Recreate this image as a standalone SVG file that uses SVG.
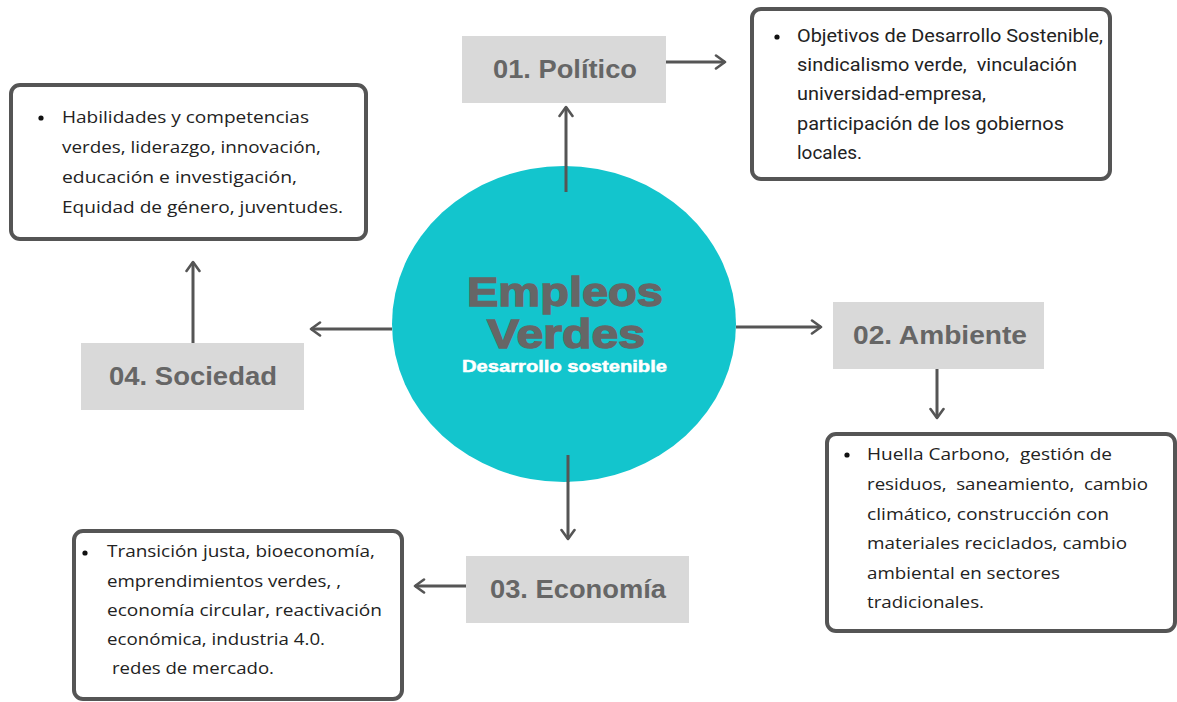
<svg xmlns="http://www.w3.org/2000/svg" width="1177" height="702" viewBox="0 0 1177 702">
<style>
.title{font-family:"Liberation Sans",Arial,sans-serif;font-weight:bold;font-size:25px;fill:#666666;text-anchor:middle}
.tbox{fill:#d9d9d9}
.card{fill:#ffffff;stroke:#555555;stroke-width:4}
.body{font-family:"Open Sans","Liberation Sans",sans-serif;font-size:17px;fill:#222222}
.cond{font-family:Roboto,"Liberation Sans",sans-serif;font-size:18px;fill:#222222}
.bul{fill:#111111}
.conn line{stroke:#555555;stroke-width:3;fill:none;marker-end:url(#arr)}
</style>
<defs>
<marker id="arr" viewBox="0 0 14 16" refX="12" refY="8" markerWidth="14" markerHeight="16" markerUnits="userSpaceOnUse" orient="auto">
<path d="M3,1.5 L12,8 L3,14.5" fill="none" stroke="#555555" stroke-width="2.6" stroke-linecap="round" stroke-linejoin="round"/>
</marker>
</defs>
<rect width="1177" height="702" fill="#ffffff"/>

<g id="connectors" class="conn">
<line x1="566" y1="192" x2="566" y2="107"/>
<line x1="666" y1="62" x2="725" y2="62"/>
<line x1="736" y1="327" x2="821" y2="327"/>
<line x1="937" y1="369" x2="937" y2="418"/>
<line x1="568" y1="455" x2="568" y2="539"/>
<line x1="466" y1="586" x2="415" y2="586"/>
<line x1="392" y1="329" x2="311" y2="329"/>
<line x1="193" y1="343" x2="193" y2="262"/>
</g>

<g id="center">
<ellipse cx="564" cy="324" rx="172" ry="158" fill="#13c5cd"/>
<line x1="566" y1="166" x2="566" y2="192" stroke="#555555" stroke-width="3"/>
<line x1="568" y1="455" x2="568" y2="482" stroke="#555555" stroke-width="3"/>
<text x="565" y="306" font-family="'Liberation Sans',Arial,sans-serif" font-weight="bold" font-size="41" fill="#666666" stroke="#666666" stroke-width="1.4" text-anchor="middle" textLength="196" lengthAdjust="spacingAndGlyphs">Empleos</text>
<text x="566" y="348" font-family="'Liberation Sans',Arial,sans-serif" font-weight="bold" font-size="41" fill="#666666" stroke="#666666" stroke-width="1.4" text-anchor="middle" textLength="158" lengthAdjust="spacingAndGlyphs">Verdes</text>
<text x="564.5" y="372" font-family="'Liberation Sans',Arial,sans-serif" font-weight="bold" font-size="17" fill="#ffffff" stroke="#ffffff" stroke-width="0.5" text-anchor="middle" textLength="205" lengthAdjust="spacingAndGlyphs">Desarrollo sostenible</text>
</g>

<g id="politico">
<rect class="tbox" x="462" y="36" width="204" height="67"/>
<text class="title" x="565" y="78" textLength="144" lengthAdjust="spacingAndGlyphs">01. Político</text>
</g>

<g id="politico-detalle">
<rect class="card" x="752" y="9" width="358" height="170" rx="9"/>
<circle class="bul" cx="777" cy="37" r="2.6"/>
<text class="cond" x="797" y="42" textLength="306" lengthAdjust="spacingAndGlyphs">Objetivos de Desarrollo Sostenible,</text>
<text class="cond" x="797" y="71" textLength="280" lengthAdjust="spacingAndGlyphs" xml:space="preserve">sindicalismo verde,  vinculación</text>
<text class="cond" x="797" y="100" textLength="189" lengthAdjust="spacingAndGlyphs">universidad-empresa,</text>
<text class="cond" x="797" y="130" textLength="267" lengthAdjust="spacingAndGlyphs">participación de los gobiernos</text>
<text class="cond" x="797" y="159" textLength="65" lengthAdjust="spacingAndGlyphs">locales.</text>
</g>

<g id="ambiente">
<rect class="tbox" x="833" y="302" width="211" height="67"/>
<text class="title" x="940" y="344" textLength="174" lengthAdjust="spacingAndGlyphs">02. Ambiente</text>
</g>

<g id="ambiente-detalle">
<rect class="card" x="827" y="434" width="348" height="197" rx="9"/>
<circle class="bul" cx="847" cy="455" r="2.6"/>
<text class="body" x="867" y="460" textLength="245" lengthAdjust="spacingAndGlyphs" xml:space="preserve">Huella Carbono,  gestión de</text>
<text class="body" x="867" y="490" textLength="281" lengthAdjust="spacingAndGlyphs" xml:space="preserve">residuos,  saneamiento,  cambio</text>
<text class="body" x="867" y="520" textLength="242" lengthAdjust="spacingAndGlyphs">climático, construcción con</text>
<text class="body" x="867" y="549" textLength="260" lengthAdjust="spacingAndGlyphs">materiales reciclados, cambio</text>
<text class="body" x="867" y="579" textLength="193" lengthAdjust="spacingAndGlyphs">ambiental en sectores</text>
<text class="body" x="867" y="608" textLength="117" lengthAdjust="spacingAndGlyphs">tradicionales.</text>
</g>

<g id="economia">
<rect class="tbox" x="466" y="556" width="223" height="67"/>
<text class="title" x="578" y="598" textLength="176" lengthAdjust="spacingAndGlyphs">03. Economía</text>
</g>

<g id="economia-detalle">
<rect class="card" x="74" y="531" width="328" height="168" rx="9"/>
<circle class="bul" cx="85" cy="553" r="2.6"/>
<text class="body" x="107" y="557" textLength="268" lengthAdjust="spacingAndGlyphs">Transición justa, bioeconomía,</text>
<text class="body" x="107" y="587" textLength="234" lengthAdjust="spacingAndGlyphs">emprendimientos verdes, ,</text>
<text class="body" x="107" y="616" textLength="275" lengthAdjust="spacingAndGlyphs">economía circular, reactivación</text>
<text class="body" x="107" y="645" textLength="218" lengthAdjust="spacingAndGlyphs">económica, industria 4.0.</text>
<text class="body" x="112" y="674" textLength="162" lengthAdjust="spacingAndGlyphs">redes de mercado.</text>
</g>

<g id="sociedad">
<rect class="tbox" x="81" y="343" width="223" height="67"/>
<text class="title" x="193" y="385" textLength="168" lengthAdjust="spacingAndGlyphs">04. Sociedad</text>
</g>

<g id="sociedad-detalle">
<rect class="card" x="11" y="85" width="355" height="154" rx="9"/>
<circle class="bul" cx="41" cy="118" r="2.6"/>
<text class="body" x="62" y="123" textLength="247" lengthAdjust="spacingAndGlyphs">Habilidades y competencias</text>
<text class="body" x="62" y="153" textLength="259" lengthAdjust="spacingAndGlyphs">verdes, liderazgo, innovación,</text>
<text class="body" x="62" y="183" textLength="235" lengthAdjust="spacingAndGlyphs">educación e investigación,</text>
<text class="body" x="62" y="213" textLength="281" lengthAdjust="spacingAndGlyphs">Equidad de género, juventudes.</text>
</g>
</svg>
